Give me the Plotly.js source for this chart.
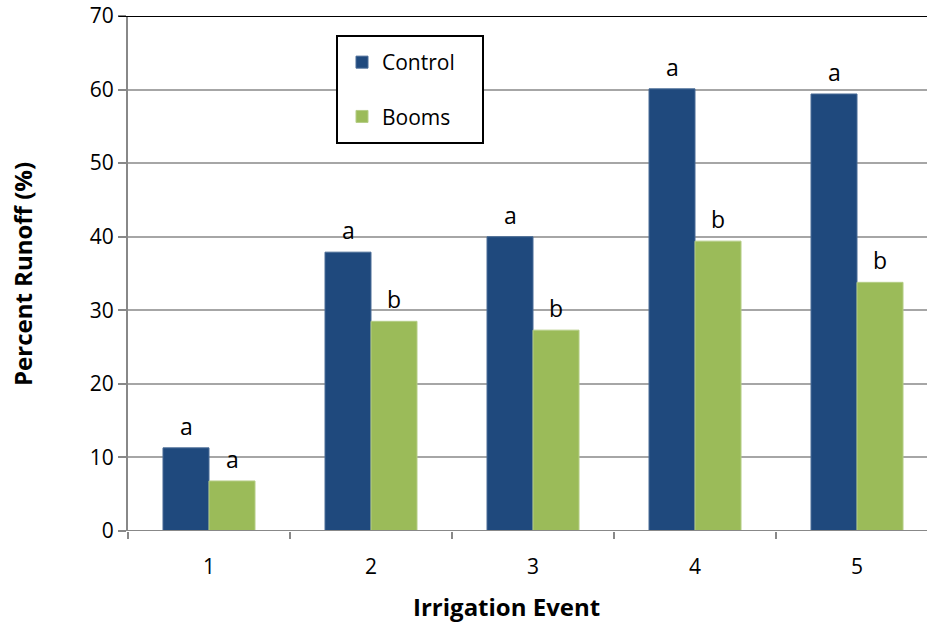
<!DOCTYPE html>
<html>
<head>
<meta charset="utf-8">
<script src="https://cdn.plot.ly/plotly-3.0.1.min.js"></script>
<style>html,body{margin:0;padding:0;background:#fff;}#chart{width:927px;height:623px;}</style>
</head>
<body>
<div id="chart"></div>
<script>
const events = [1, 2, 3, 4, 5];
const controlValues = [11.3, 37.9, 40.0, 60.1, 59.4];
const boomsValues = [6.8, 28.5, 27.3, 39.4, 33.8];
const controlLetters = ['a', 'a', 'a', 'a', 'a'];
const boomsLetters = ['a', 'b', 'b', 'b', 'b'];
const yTicks = [0, 10, 20, 30, 40, 50, 60, 70];
const xTitle = 'Irrigation Event';
const yTitle = 'Percent Runoff (%)';

const FONT = 'Open Sans';
const offset = 0.142;

const traces = [
  {type: 'bar', name: 'Control', x: events, y: controlValues, marker: {color: '#1F497D', line: {color: '#4A6C97', width: 1}}, legendgroup: 'c', hoverinfo: 'skip'},
  {type: 'bar', name: 'Booms', x: events, y: boomsValues, marker: {color: '#9BBB59', line: {color: '#B5CD86', width: 1}}, legendgroup: 'b', hoverinfo: 'skip'}
];

const px = v => (v - 128) / 799;
const py = v => 1 - (v - 16) / 515;

const annotations = [];
events.forEach((e, i) => {
  annotations.push({x: e - offset, y: controlValues[i], text: controlLetters[i], showarrow: false, yanchor: 'bottom', yshift: 4, font: {family: FONT, size: 23, color: '#000'}});
  annotations.push({x: e + offset, y: boomsValues[i], text: boomsLetters[i], showarrow: false, yanchor: 'bottom', yshift: 4, font: {family: FONT, size: 23, color: '#000'}});
});
annotations.push({xref: 'paper', yref: 'paper', x: px(506), y: py(606), xanchor: 'center', yanchor: 'middle', showarrow: false, text: xTitle, font: {size: 24, family: FONT, weight: 'bold', color: '#000'}});
annotations.push({xref: 'paper', yref: 'paper', x: px(22), y: py(274), xanchor: 'center', yanchor: 'middle', showarrow: false, textangle: -90, text: yTitle, font: {size: 24, family: FONT, weight: 'bold', color: '#000'}});

const layout = {
  width: 927, height: 623,
  margin: {l: 128, r: 0, t: 16, b: 92},
  paper_bgcolor: '#fff', plot_bgcolor: '#fff',
  barmode: 'group', bargap: 0.432, bargroupgap: 0,
  font: {family: FONT, color: '#000', size: 21},
  xaxis: {
    range: [0.5, 5.432], tickvals: events, ticktext: events.map(String),
    ticks: 'outside', ticklen: 17, tickcolor: 'rgba(0,0,0,0)', showgrid: false, zeroline: false,
    showline: false,
    tickfont: {size: 21, family: FONT, color: '#000'},
    minor: {tickmode: 'array', tickvals: [0.5, 1.5, 2.5, 3.5, 4.5, 5.5], ticks: 'outside', ticklen: 7, tickcolor: '#888', tickwidth: 2, showgrid: false}
  },
  yaxis: {
    range: [0, 70], tickvals: yTicks, ticks: 'outside', ticklen: 8, tickcolor: '#888', tickwidth: 2,
    showline: true, linecolor: '#888', linewidth: 2,
    showgrid: true, gridcolor: '#A6A6A6', gridwidth: 2,
    zeroline: false,
    tickfont: {size: 21, family: FONT, color: '#000'},
    ticksuffix: '  '
  },
  shapes: [
    {type: 'line', xref: 'paper', yref: 'y', x0: 0, x1: 1, y0: 0, y1: 0, line: {color: '#888', width: 2}, layer: 'above'},
    {type: 'line', xref: 'paper', yref: 'y', x0: -0.012, x1: 1, y0: 70, y1: 70, line: {color: '#000', width: 2}},
    {type: 'rect', xref: 'paper', yref: 'paper', x0: px(337), x1: px(483), y0: py(143), y1: py(36), fillcolor: '#fff', line: {color: '#000', width: 2}, layer: 'above'}
  ],
  showlegend: true,
  legend: {
    x: px(342), y: py(42), xanchor: 'left', yanchor: 'top',
    bgcolor: 'rgba(0,0,0,0)', borderwidth: 0,
    font: {size: 21, family: FONT, color: '#000'}, tracegroupgap: 24, itemwidth: 30,
    traceorder: 'grouped'
  },
  annotations: annotations
};

Plotly.newPlot('chart', traces, layout, {displayModeBar: false, staticPlot: true});
</script>
</body>
</html>
